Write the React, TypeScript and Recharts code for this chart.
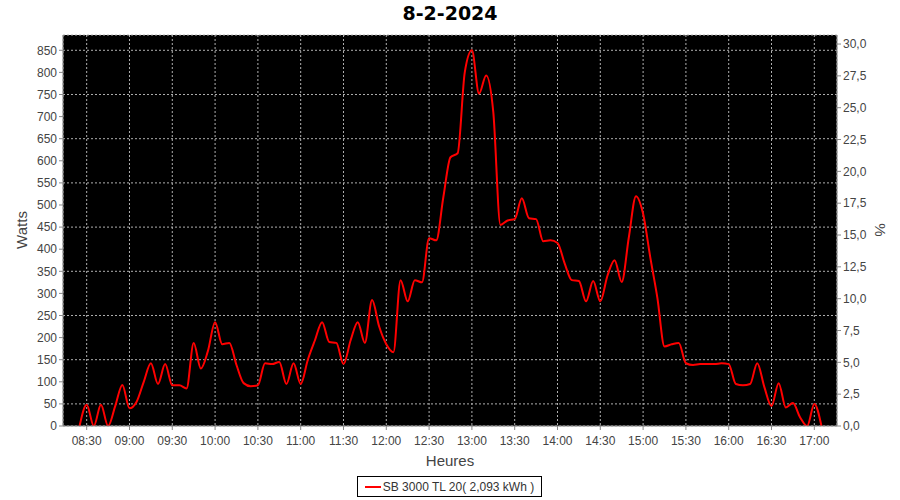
import { LineChart, Line, XAxis, YAxis, CartesianGrid } from 'recharts';

// 5-minute samples from 08:25 to 17:05
const START_MIN = 8 * 60 + 25;
const STEP_MIN = 5;
const WATTS = [
  0, 48, 0, 48, 0, 45, 93, 40, 55, 100,
  142, 95, 140, 92, 92, 85, 188, 130, 170, 235,
  185, 188, 138, 97, 90, 92, 142, 140, 145, 95,
  142, 95, 150, 194, 235, 190, 188, 140, 194, 235,
  188, 285, 225, 185, 167, 330, 282, 330, 325, 425,
  420, 518, 608, 617, 800, 850, 752, 793, 710, 455,
  465, 468, 515, 470, 468, 418, 420, 414, 368, 330,
  328, 282, 328, 282, 340, 375, 326, 427, 520, 480,
  382, 290, 180, 185, 188, 142, 138, 140, 140, 140,
  142, 140, 95, 92, 95, 142, 88, 45, 97, 42,
  52, 20, 0, 50, 0,
];
const TIME_TICKS = [510, 540, 570, 600, 630, 660, 690, 720, 750, 780, 810, 840, 870, 900, 930, 960, 990, 1020];
const WATT_TICKS = [0, 50, 100, 150, 200, 250, 300, 350, 400, 450, 500, 550, 600, 650, 700, 750, 800, 850];
const PCT_TICKS = [0, 2.5, 5, 7.5, 10, 12.5, 15, 17.5, 20, 22.5, 25, 27.5, 30];

const data = WATTS.map((w, i) => ({ t: START_MIN + i * STEP_MIN, w }));

const fmtTime = (m: number) => {
  const h = Math.floor(m / 60);
  const mm = m % 60;
  return `${String(h).padStart(2, '0')}:${String(mm).padStart(2, '0')}`;
};
const fmtPct = (v: number) => v.toFixed(1).replace('.', ',');

const tick = { fontSize: 12, fill: '#444', fontFamily: 'Liberation Sans, Arial, sans-serif' };
const axisLine = { stroke: '#888' };
const label: React.CSSProperties = {
  position: 'absolute',
  fontSize: 15,
  color: '#444',
  fontFamily: 'Liberation Sans, Arial, sans-serif',
  whiteSpace: 'nowrap',
};

export default function App() {
  return (
    <div style={{ position: 'absolute', left: 0, top: 0, width: 900, height: 500, background: '#fff' }}>
      <div
        style={{
          position: 'absolute',
          top: 2,
          left: 0,
          width: 900,
          textAlign: 'center',
          fontFamily: 'DejaVu Sans, sans-serif',
          fontWeight: 'bold',
          fontSize: 19,
        }}
      >
        8-2-2024
      </div>
      <LineChart width={900} height={500} data={data} margin={{ top: 35, right: 0, left: 0, bottom: 24 }}>
        <CartesianGrid
          yAxisId="w"
          fill="#000"
          fillOpacity={1}
          stroke="#b0b0b0"
          strokeDasharray="2 2"
        />
        <XAxis
          dataKey="t"
          type="number"
          domain={[493.4, 1035.9]}
          allowDataOverflow
          ticks={TIME_TICKS}
          tickFormatter={fmtTime}
          height={50}
          tick={tick}
          tickSize={4}
          tickMargin={6}
          axisLine={axisLine}
          tickLine={axisLine}
        />
        <YAxis
          yAxisId="w"
          orientation="left"
          domain={[0, 884.6]}
          allowDataOverflow
          ticks={WATT_TICKS}
          width={63}
          tick={tick}
          tickSize={4}
          axisLine={axisLine}
          tickLine={axisLine}
        />
        <YAxis
          yAxisId="p"
          orientation="right"
          domain={[0, 30.71]}
          allowDataOverflow
          ticks={PCT_TICKS}
          tickFormatter={fmtPct}
          width={63}
          tick={tick}
          tickSize={4}
          axisLine={axisLine}
          tickLine={axisLine}
        />
        <Line
          yAxisId="w"
          dataKey="w"
          type="monotone"
          stroke="#ff0000"
          strokeWidth={2}
          dot={false}
          isAnimationActive={false}
        />
      </LineChart>
      <div style={{ ...label, left: 21, top: 230, transform: 'translate(-50%, -50%) rotate(-90deg)' }}>Watts</div>
      <div style={{ ...label, left: 880, top: 230, transform: 'translate(-50%, -50%) rotate(90deg)' }}>%</div>
      <div style={{ ...label, left: 450, top: 460, transform: 'translate(-50%, -50%)' }}>Heures</div>
      <div
        style={{
          position: 'absolute',
          left: 357,
          top: 476,
          width: 185,
          height: 21,
          boxSizing: 'border-box',
          border: '1px solid #000',
          display: 'flex',
          alignItems: 'center',
          justifyContent: 'center',
          fontFamily: 'Liberation Sans, Arial, sans-serif',
          fontSize: 12,
          color: '#333',
        }}
      >
        <span style={{ display: 'inline-block', width: 16, height: 2, background: '#ff0000', marginRight: 2 }} />
        SB 3000 TL 20( 2,093 kWh )
      </div>
    </div>
  );
}
